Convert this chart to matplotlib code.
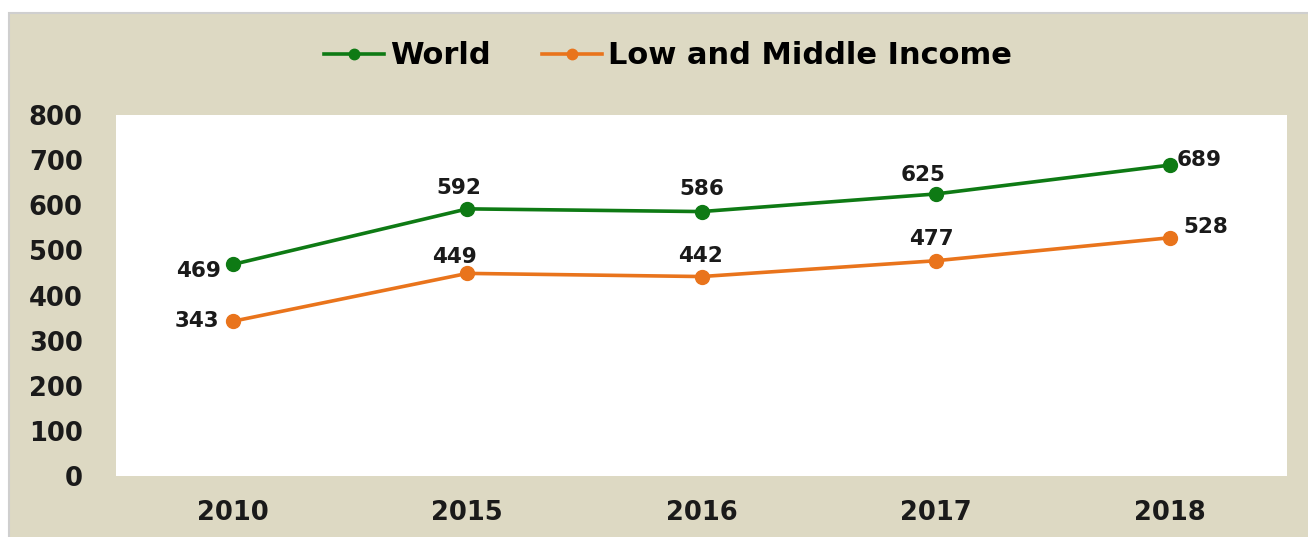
import numpy as np
import matplotlib.pyplot as plt
from matplotlib.patches import Rectangle

# data
years = ['2010', '2015', '2016', '2017', '2018']
world = [469, 592, 586, 625, 689]
low_mid = [343, 449, 442, 477, 528]
yticks = [0, 100, 200, 300, 400, 500, 600, 700, 800]

# label offsets (points) for each point
world_off = [(-25, -5), (-6, 15), (0, 16), (-9, 14), (21, 4)]
low_off = [(-26, 0), (-9, 12), (-1, 15), (-3, 16), (26, 8)]

bg = '#ddd9c3'
green = '#0e7a14'
orange = '#e9741c'

plt.rcParams['font.family'] = ['DejaVu Sans']
plt.rcParams['font.weight'] = 'bold'

fig = plt.figure(figsize=(13.08, 5.37), dpi=100)
fig.patch.set_facecolor('white')
W, H = 1308, 537
fig.patches.append(Rectangle((9 / W, -0.05), 1.1, (H - 13) / H + 0.05,
                             transform=fig.transFigure, facecolor=bg,
                             edgecolor='#cfcfcf', linewidth=1.5, zorder=-5))

ax = fig.add_axes([116 / W, (H - 476) / H, (1287 - 116) / W, (476 - 115) / H])
ax.set_facecolor('white')
x = np.arange(len(years))
ax.plot(x, world, color=green, lw=2.6, marker='o', ms=10, label='World')
ax.plot(x, low_mid, color=orange, lw=2.6, marker='o', ms=10, label='Low and Middle Income')

for xi, v, off in zip(x, world, world_off):
    ax.annotate(str(v), (xi, v), xytext=off, textcoords='offset points',
                ha='center', va='center', fontsize=15.5, fontweight='bold', color='#1a1a1a')
for xi, v, off in zip(x, low_mid, low_off):
    ax.annotate(str(v), (xi, v), xytext=off, textcoords='offset points',
                ha='center', va='center', fontsize=15.5, fontweight='bold', color='#1a1a1a')

ax.set_xlim(-0.5, len(years) - 0.5)
ax.set_ylim(0, 800)
ax.set_xticks(x)
ax.set_xticklabels(years)
ax.set_yticks(yticks)
ax.tick_params(length=0, labelsize=18.5, colors='#1a1a1a')
ax.tick_params(axis='y', pad=24)
ax.tick_params(axis='x', pad=17)
for lab in ax.get_xticklabels() + ax.get_yticklabels():
    lab.set_fontweight('bold')
for s in ax.spines.values():
    s.set_visible(False)

fig.legend(loc='center', bbox_to_anchor=(668 / W, (H - 56) / H), ncol=2, frameon=False,
           prop={'size': 22, 'weight': 'bold'}, handlelength=1.95, columnspacing=1.7,
           handletextpad=0.2, markerscale=0.75)

fig.savefig('out.png', dpi=100, facecolor=fig.get_facecolor())
